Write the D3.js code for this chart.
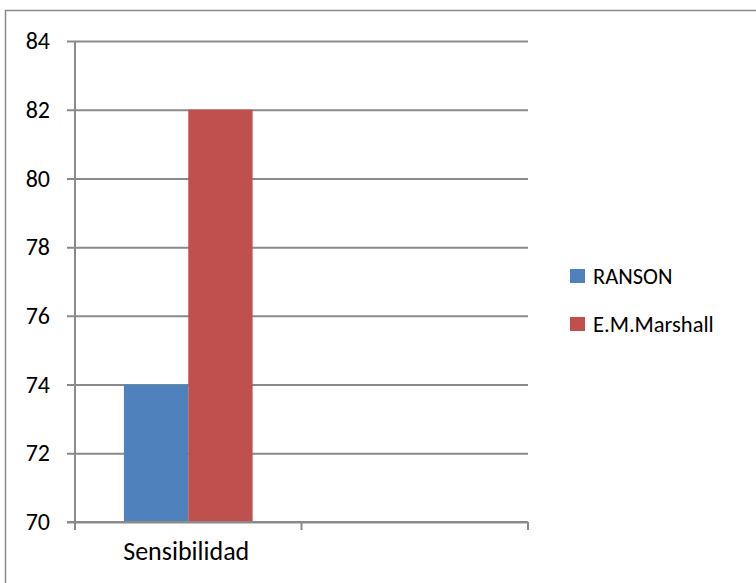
<!DOCTYPE html>
<html>
<head>
<meta charset="utf-8">
<script src="https://cdn.jsdelivr.net/npm/d3@7"></script>
<style>
  html, body { margin: 0; padding: 0; background: #fff; }
  svg { display: block; }
  svg text { font-family: Carlito, Calibri, Lato, sans-serif; fill: #000; }
</style>
</head>
<body>
<div id="chart"></div>
<script>
// chart data
var categories = ['Sensibilidad', ''];
var seriesNames = ['RANSON', 'E.M.Marshall'];
var ransonValues = [74, null];
var marshallValues = [82, null];
var yTicks = [70, 72, 74, 76, 78, 80, 82, 84];
var colors = ['#4F81BD', '#C0504D'];

var width = 756, height = 583;
var plot = { left: 75, right: 528, top: 41, bottom: 522 };
var gridColor = '#8a8a8a';

var svg = d3.select('#chart').append('svg')
  .attr('width', width)
  .attr('height', height);

// outer chart border (cropped at right/bottom in the original)
svg.append('rect')
  .attr('x', 5.5)
  .attr('y', 10.5)
  .attr('width', width + 10)
  .attr('height', height + 10)
  .attr('fill', 'none')
  .attr('stroke', gridColor)
  .attr('stroke-width', 1.5);

var y = d3.scaleLinear()
  .domain([70, 84])
  .range([plot.bottom, plot.top]);

var x = d3.scaleBand()
  .domain(categories.map(function(d, i) { return i; }))
  .range([plot.left, plot.right])
  .padding(0);

// bars fill ~57% of each category slot
var inner = d3.scaleBand()
  .domain(seriesNames)
  .range([0, x.bandwidth()])
  .paddingOuter(0.76)
  .paddingInner(0);

// gridlines + y ticks
var yAxis = svg.append('g')
  .attr('transform', 'translate(' + plot.left + ',0)')
  .call(d3.axisLeft(y)
    .tickValues(yTicks)
    .tickSize(-(plot.right - plot.left))
    .tickSizeOuter(0)
    .tickPadding(25)
    .tickFormat(d3.format('d')));

yAxis.attr('font-family', null);
yAxis.select('.domain').remove();
yAxis.selectAll('.tick line')
  .attr('x1', -8)
  .attr('stroke', gridColor)
  .attr('stroke-width', 2);
yAxis.selectAll('.tick text')
  .style('font-size', '24px');

// bars
var series = [ransonValues, marshallValues];
series.forEach(function(values, s) {
  svg.append('g').selectAll('rect')
    .data(values.map(function(v, i) { return { v: v, i: i }; })
      .filter(function(d) { return d.v != null; }))
    .enter().append('rect')
    .attr('x', function(d) { return x(d.i) + inner(seriesNames[s]); })
    .attr('width', inner.bandwidth())
    .attr('y', function(d) { return y(d.v); })
    .attr('height', function(d) { return y(70) - y(d.v); })
    .attr('fill', colors[s]);
});

// y axis line
svg.append('line')
  .attr('x1', plot.left).attr('x2', plot.left)
  .attr('y1', plot.top).attr('y2', plot.bottom + 8)
  .attr('stroke', gridColor)
  .attr('stroke-width', 2);

// x axis with ticks at category boundaries
var xEdges = [plot.left].concat(categories.map(function(d, i) { return x(i) + x.bandwidth(); }));
svg.append('line')
  .attr('x1', plot.left - 8).attr('x2', plot.right)
  .attr('y1', plot.bottom).attr('y2', plot.bottom)
  .attr('stroke', gridColor)
  .attr('stroke-width', 2);
svg.append('g').selectAll('line')
  .data(xEdges)
  .enter().append('line')
  .attr('x1', function(d) { return d; })
  .attr('x2', function(d) { return d; })
  .attr('y1', plot.bottom)
  .attr('y2', plot.bottom + 8)
  .attr('stroke', gridColor)
  .attr('stroke-width', 2);

svg.append('g').selectAll('text')
  .data(categories)
  .enter().append('text')
  .attr('x', function(d, i) { return x(i) + x.bandwidth() / 2 - 2; })
  .attr('y', 560)
  .attr('text-anchor', 'middle')
  .style('font-size', '26px')
  .text(function(d) { return d; });

// legend
var legend = svg.append('g').selectAll('g')
  .data(seriesNames)
  .enter().append('g')
  .attr('transform', function(d, i) { return 'translate(570,' + (269 + i * 48) + ')'; });

legend.append('rect')
  .attr('width', 15)
  .attr('height', 14)
  .attr('fill', function(d, i) { return colors[i]; });

legend.append('text')
  .attr('x', 23)
  .attr('y', 7)
  .attr('dy', '0.35em')
  .style('font-size', '22.5px')
  .text(function(d) { return d; });
</script>
</body>
</html>
